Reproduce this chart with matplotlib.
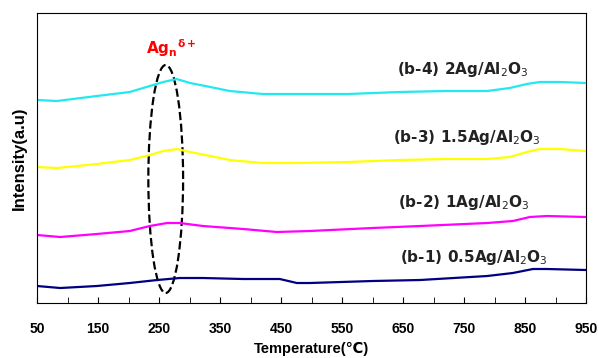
import numpy as np
import matplotlib.pyplot as plt
from matplotlib.patches import Ellipse
from matplotlib.ticker import MultipleLocator

plt.rcParams['font.family'] = ['Liberation Sans', 'DejaVu Sans']

# curves (temperature in C, intensity in arbitrary units)
temp_b4 = [50, 83, 148, 202, 235, 257, 279, 301, 334, 366, 420, 476, 560, 645, 720, 788, 825, 853, 874, 907, 950]
int_b4 = [203, 202, 207, 211, 217, 221, 224, 220, 216, 212, 209, 209, 209, 211, 212, 212, 215, 219, 221, 221, 220]

temp_b3 = [50, 83, 148, 202, 235, 257, 279, 301, 334, 366, 420, 476, 560, 645, 720, 788, 825, 853, 874, 907, 950]
int_b3 = [136, 135, 139, 143, 148, 152, 154, 151, 147, 143, 140, 140, 141, 143, 144, 144, 146, 151, 154, 154, 152]

temp_b2 = [50, 88, 148, 202, 235, 263, 284, 322, 388, 443, 497, 600, 678, 788, 830, 858, 886, 950]
int_b2 = [68, 66, 69, 72, 77, 80, 80, 77, 74, 71, 72, 75, 77, 80, 82, 86, 87, 86]

temp_b1 = [50, 88, 148, 202, 247, 284, 322, 388, 448, 476, 497, 600, 678, 788, 830, 863, 886, 950]
int_b1 = [17, 15, 17, 20, 23, 25, 25, 24, 24, 20, 20, 22, 23, 27, 30, 34, 34, 33]

labels = ['(b-4) 2Ag/Al$_2$O$_3$', '(b-3) 1.5Ag/Al$_2$O$_3$',
          '(b-2) 1Ag/Al$_2$O$_3$', '(b-1) 0.5Ag/Al$_2$O$_3$']
label_x = [640, 633, 642, 645]
label_y = [233, 166, 101, 46]

fig = plt.figure(figsize=(5.99, 3.58), dpi=100)
ax = fig.add_axes([0.0618, 0.1536, 0.9165, 0.8101])

ax.plot(temp_b4, int_b4, color='#22e8f0', lw=1.6)
ax.plot(temp_b3, int_b3, color='#ffff00', lw=1.6)
ax.plot(temp_b2, int_b2, color='#ff00ff', lw=1.6)
ax.plot(temp_b1, int_b1, color='#000080', lw=1.6)

for s, x, y in zip(labels, label_x, label_y):
    ax.text(x, y, s, fontsize=11, fontweight='bold', color='#222222',
            va='center', ha='left', family=['DejaVu Sans'])

# dashed ellipse round the Ag_n peak
ax.add_patch(Ellipse((261, 124), 57, 228, fill=False, ls='--', lw=1.6, color='black'))
ax.text(270, 255, r'$\mathbf{Ag_n}^{\mathbf{\delta+}}$', color='red', fontsize=11,
        ha='center', va='center')

ax.set_xlim(50, 950)
ax.set_ylim(0, 290)
ax.xaxis.set_minor_locator(MultipleLocator(50))
ax.set_xticks(np.arange(50, 951, 100))
ax.tick_params(axis='x', which='both', direction='in', length=4, top=False, pad=14)
ax.tick_params(axis='y', left=False, labelleft=False)
for t in ax.get_xticklabels():
    t.set_fontweight('bold')
    t.set_fontsize(10)
ax.set_xlabel('Temperature(℃)', fontsize=10.5, fontweight='bold', labelpad=4)
ax.set_ylabel('Intensity(a.u)', fontsize=12, fontweight='bold', labelpad=7)

fig.savefig('out.png', dpi=100)
